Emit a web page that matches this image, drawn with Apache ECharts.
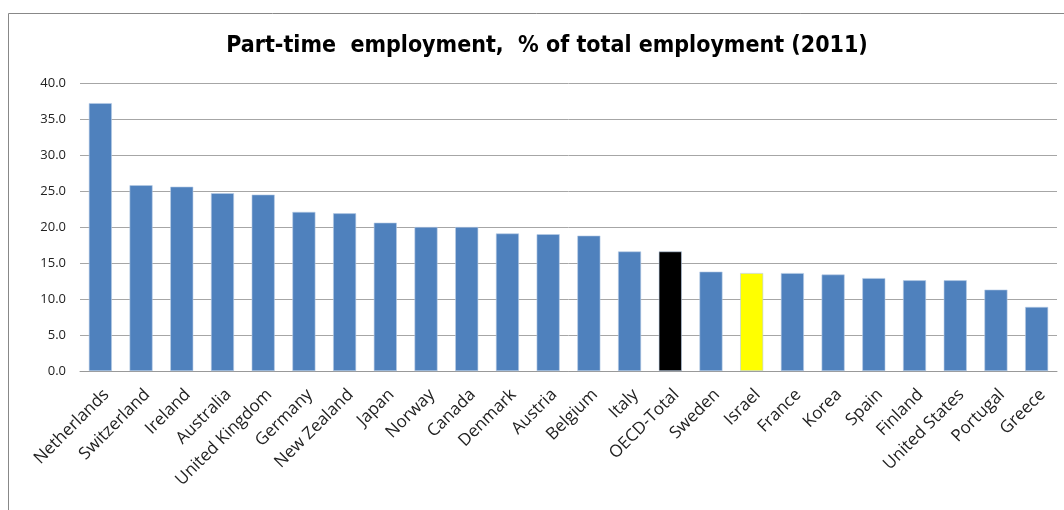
<!DOCTYPE html>
<html>
<head>
<meta charset="utf-8">
<script src="https://cdn.jsdelivr.net/npm/echarts@6/dist/echarts.min.js"></script>
<style>html,body{margin:0;padding:0;background:#fff}#c{width:1064px;height:510px}</style>
</head>
<body>
<div id="c"></div>
<script>
const categories = ["Netherlands","Switzerland","Ireland","Australia","United Kingdom","Germany","New Zealand","Japan","Norway","Canada","Denmark","Austria","Belgium","Italy","OECD-Total","Sweden","Israel","France","Korea","Spain","Finland","United States","Portugal","Greece"];
const values = [37.2,25.8,25.6,24.7,24.5,22.1,21.9,20.6,20.0,20.0,19.1,19.0,18.8,16.6,16.6,13.8,13.6,13.6,13.4,12.9,12.6,12.6,11.3,8.9];
const highlight = {"OECD-Total":"#000000","Israel":"#FFFF00"};
const yTicks = [0,5,10,15,20,25,30,35,40];
const title = "Part-time  employment,  % of total employment (2011)";

const chart = echarts.init(document.getElementById('c'));
chart.setOption({
  animation:false,
  backgroundColor:'#fff',
  title:{text:title,left:542,textAlign:'center',top:30,
    textStyle:{fontFamily:'DejaVu Sans Condensed',fontWeight:'bold',fontSize:23,color:'#000'}},
  graphic:[{type:'rect',shape:{x:8.5,y:13.5,width:1200,height:700},style:{fill:null,stroke:'#888',lineWidth:1},silent:true,z:-1}],
  grid:{left:80,right:7,top:83,bottom:139,containLabel:false},
  xAxis:{type:'category',data:categories,
    axisLine:{lineStyle:{color:'#999',width:1}},axisTick:{show:false},
    axisLabel:{rotate:45,interval:0,margin:15,fontSize:17,color:'#222',fontFamily:'Open Sans',verticalAlign:'top'}},
  yAxis:{type:'value',min:0,max:40,interval:5,
    axisLine:{show:false},axisTick:{show:false},
    axisLabel:{formatter:v=>v.toFixed(1),fontSize:13,color:'#222',margin:14,fontFamily:'Open Sans'},
    splitLine:{lineStyle:{color:'#a6a6a6',width:1}}},
  series:[{type:'bar',barWidth:23,
    data:values.map((v,i)=>({value:v,itemStyle:{color:highlight[categories[i]]||'#4F81BD'}})),
    itemStyle:{borderColor:'#b9cde5',borderWidth:0.6}}]
});
</script>
</body>
</html>
